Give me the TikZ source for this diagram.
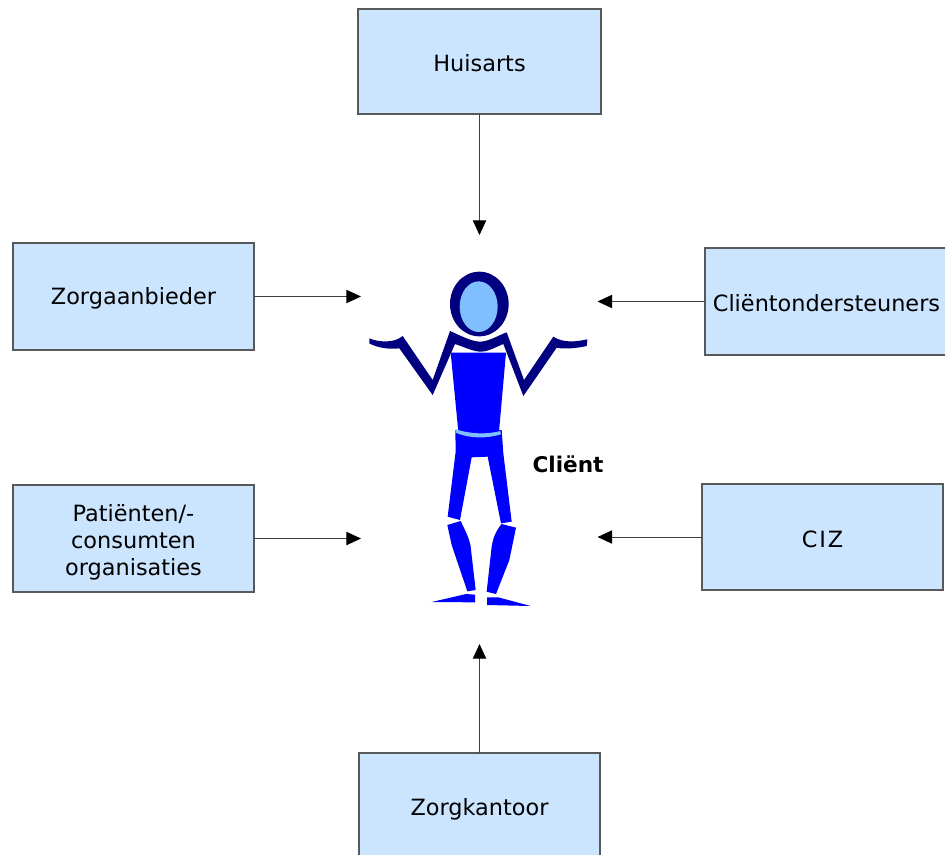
\documentclass[tikz,border=0pt]{standalone}
\usepackage{fontspec}
\setmainfont{DejaVu Sans}
\usetikzlibrary{arrows.meta}
\definecolor{boxblue}{HTML}{CCE5FF}
\definecolor{manblue}{HTML}{0000FF}
\definecolor{mannavy}{HTML}{000080}
\definecolor{manlight}{HTML}{80BFFF}

\begin{document}
\begin{tikzpicture}[
    x=0.75pt, y=-0.75pt,
    zorgbox/.style={draw=black!65, line width=0.8pt, fill=boxblue, inner sep=0pt, outer sep=0pt, align=center,
        font=\fontsize{16.8}{20.2}\selectfont},
    oneline/.style={text height=15.5pt},
    conn/.style={draw=black!75, line width=0.75pt, -{Triangle[length=11pt, width=10pt, color=black]}}
  ]
\useasboundingbox (0,0) rectangle (945,854);

% Boxes around the client
\node[zorgbox, oneline, minimum width=182.25pt, minimum height=78.75pt] (huisarts) at (479.5,61.5) {Huisarts};
\node[zorgbox, oneline, minimum width=180.75pt, minimum height=80.25pt] (aanbieder) at (133.5,296.5) {Zorgaanbieder};
\node[zorgbox, oneline, minimum width=182.25pt, minimum height=80.25pt] (onderst) at (826.5,301.5) {Cliëntondersteuners};
\node[zorgbox, minimum width=180.75pt, minimum height=80.25pt] (patient) at (133.5,538.5) {\rule{0pt}{19pt}Patiënten/-\\consumten\\organisaties};
\node[zorgbox, oneline, minimum width=180.75pt, minimum height=79.5pt] (ciz) at (822.5,537) {\addfontfeature{LetterSpace=8}CIZ};
\node[zorgbox, oneline, minimum width=180.75pt, minimum height=81pt] (kantoor) at (479.5,807) {Zorgkantoor};

% Free ends of the arrows
\coordinate (top) at (479.5,235);
\coordinate (left1) at (361,296.5);
\coordinate (right1) at (597.5,301.5);
\coordinate (left2) at (361,538.5);
\coordinate (right2) at (597.5,537);
\coordinate (bottom) at (479.5,644);

\draw[conn] (huisarts) -- (top);
\draw[conn] (aanbieder) -- (left1);
\draw[conn] (onderst) -- (right1);
\draw[conn] (patient) -- (left2);
\draw[conn] (ciz) -- (right2);
\draw[conn] (kantoor) -- (bottom);

% Upper part of the figure
\begin{scope}[shift={(360,260)}, x=0.25pt, y=-0.25pt]
  \fill[manblue] (272,278) -- (438,278) -- (417,515) -- (295,515) -- cycle;
  \fill[mannavy] (358,132) ellipse [x radius=22pt, y radius=24.25pt];
  \fill[manlight] (356,140) ellipse [x radius=14.25pt, y radius=19pt];
  \fill[mannavy] (28,235) .. controls (50,245) and (100,252) .. (128,228) -- (218,360) -- (270,213)
    .. controls (300,226) and (335,245) .. (360,245) .. controls (385,245) and (415,226) .. (440,217)
    -- (492,360) -- (580,230) .. controls (610,250) and (650,245) .. (682,238) -- (680,258)
    .. controls (650,265) and (610,268) .. (590,263) -- (490,408) -- (430,252)
    .. controls (410,260) and (385,275) .. (362,275) .. controls (340,275) and (310,260) .. (285,252)
    -- (218,405) -- (118,265) .. controls (90,268) and (55,265) .. (28,250) -- cycle;
\end{scope}

% Lower part of the figure
\begin{scope}[shift={(420,420)}, x=0.25pt, y=-0.25pt]
  \fill[manblue] (106,30) -- (245,30) -- (250,100) -- (275,305) -- (243,310) -- (203,110) -- (155,112)
    -- (120,300) -- (83,290) -- (107,95) -- cycle;
  \fill[manlight] (108,28) .. controls (150,42) and (200,44) .. (241,33) -- (243,43)
    .. controls (200,56) and (150,56) .. (106,38) -- cycle;
  \fill[manblue] (82,315) -- (122,303) .. controls (135,330) and (150,360) .. (152,380) -- (167,510) -- (142,514)
    -- (95,375) -- cycle;
  \fill[manblue] (245,312) -- (288,323) -- (268,420) -- (228,522) -- (200,515) -- (215,380)
    .. controls (218,360) and (225,335) .. (245,312) -- cycle;
  \fill[manblue] (35,546) -- (138,522) -- (165,524) -- (165,547) -- cycle;
  \fill[manblue] (201,532) -- (235,532) -- (332,558) -- (201,555) -- cycle;
\end{scope}

\node[font=\fontsize{16.2}{18}\selectfont\bfseries, inner sep=0pt] (client) at (568,464) {Cliënt};
\end{tikzpicture}
\end{document}
